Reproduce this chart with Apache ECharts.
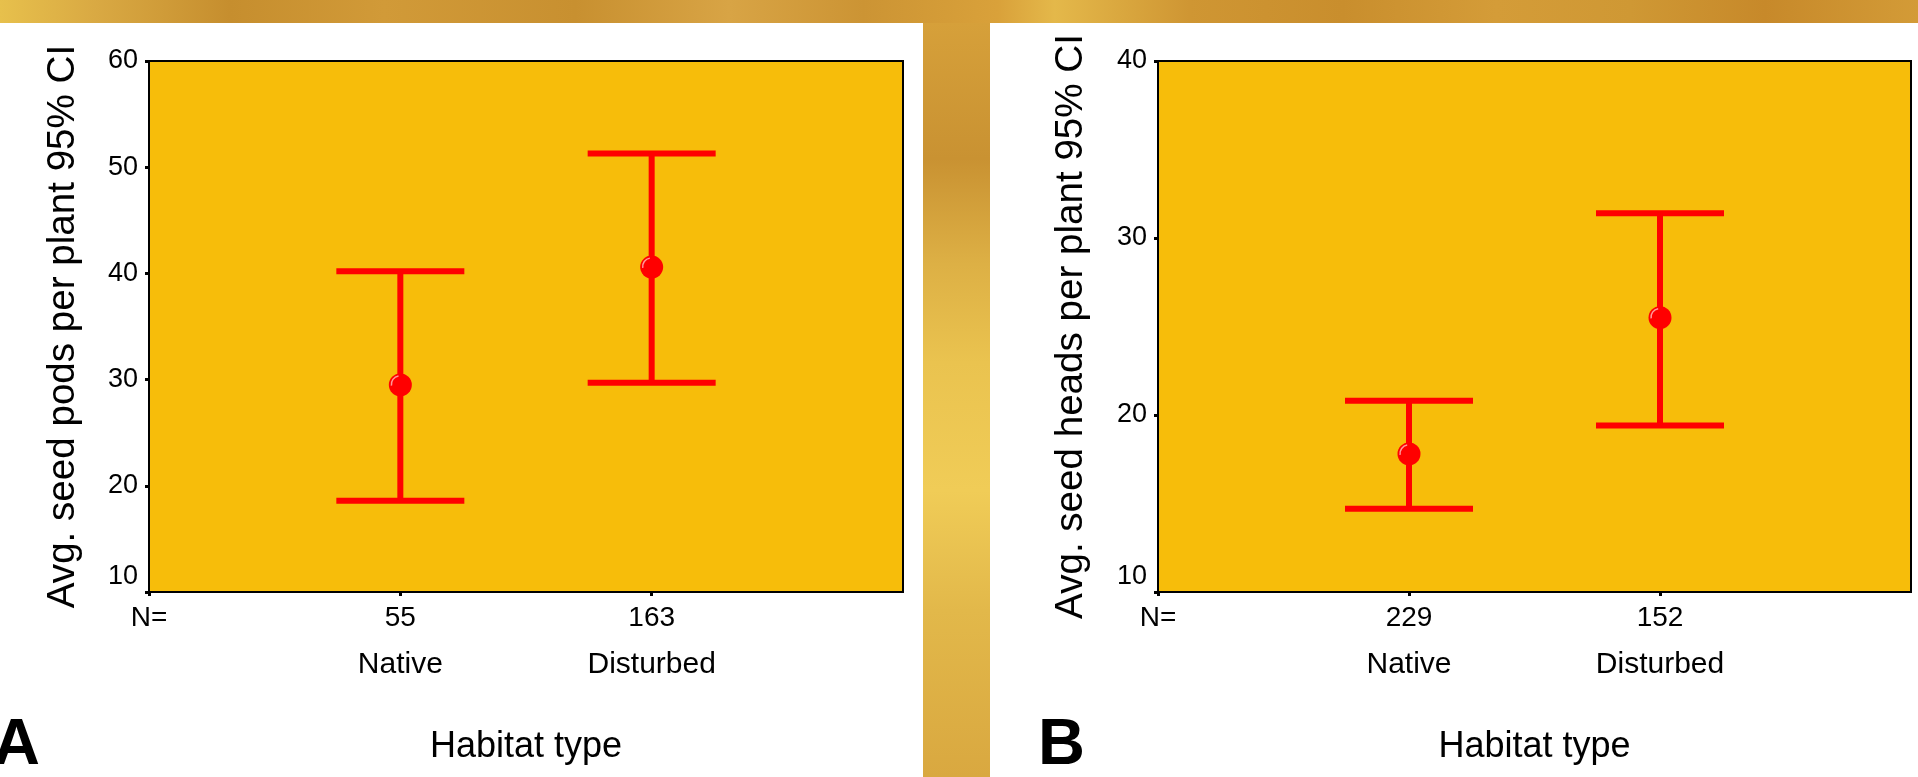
<!DOCTYPE html>
<html>
<head>
<meta charset="utf-8">
<script src="https://cdn.jsdelivr.net/npm/echarts@6/dist/echarts.min.js"></script>
<style>
html,body{margin:0;padding:0;width:1918px;height:777px;overflow:hidden;}
body{background:linear-gradient(90deg,#E7C04C 0%,#D9A943 5%,#C68E2E 12%,#D19A38 20%,#C89030 30%,#D8A445 38%,#CC9434 45%,#D9A13A 52%,#E4B84A 55%,#CF9633 62%,#C98E2D 70%,#D49C38 78%,#CF9834 85%,#C7892A 92%,#D39B37 100%);}
#strip{position:absolute;left:923px;top:23px;width:67px;height:754px;background:linear-gradient(180deg,#D6A03A 0%,#C99232 18%,#DDB045 32%,#EAC34F 45%,#F0CC57 62%,#E2B84A 78%,#D9A840 100%);}
#chart{position:absolute;left:0;top:0;width:1918px;height:777px;}
</style>
</head>
<body>
<div id="strip"></div>
<div id="chart"></div>
<script>
// ---- data ----
const categories = ['Native', 'Disturbed'];
const nA = [55, 163];
const meanA = [29.5, 40.6];
const lowA = [18.6, 29.7];
const highA = [40.2, 51.3];
const yRangeA = [10, 60];

const nB = [229, 152];
const meanB = [17.8, 25.5];
const lowB = [14.7, 19.4];
const highB = [20.8, 31.4];
const yRangeB = [10, 40];

const yStep = 10;
const nLabel = 'N=';
const xTitle = 'Habitat type';
const yTitleA = 'Avg. seed pods per plant 95% CI';
const yTitleB = 'Avg. seed heads per plant 95% CI';

// ---- styles ----
const FONT = "'Liberation Sans', Arial, sans-serif";
const RED = '#FF0000';
const PLOT_BG = '#F7BD0A';

const chart = echarts.init(document.getElementById('chart'), null, {renderer: 'canvas'});

function makeX(gridIndex, ns) {
  return {
    type: 'category', gridIndex: gridIndex,
    data: [''].concat(categories).concat(['']),
    boundaryGap: false,
    axisLine: {show: true, lineStyle: {color: '#000', width: 2}},
    axisTick: {show: true, length: 4, lineStyle: {color: '#000', width: 3},
      interval: function (i) { return i <= categories.length; }},
    axisLabel: {
      interval: 0, margin: 6, verticalAlign: 'top', color: '#000', fontFamily: FONT,
      formatter: function (v, i) {
        if (i === 0) return '{n|' + nLabel + '}';
        if (i <= categories.length) return '{n|' + ns[i - 1] + '}\n{c|' + v + '}';
        return '';
      },
      rich: {
        n: {fontSize: 28, lineHeight: 40, color: '#000', fontFamily: FONT},
        c: {fontSize: 30, lineHeight: 53, color: '#000', fontFamily: FONT}
      }
    },
    splitLine: {show: false},
    name: xTitle, nameLocation: 'middle', nameGap: 137,
    nameTextStyle: {fontSize: 36, color: '#000', fontFamily: FONT}
  };
}

function makeY(gridIndex, range, title, gap) {
  return {
    type: 'value', gridIndex: gridIndex,
    min: range[0], max: range[1], interval: yStep,
    axisLine: {show: true, lineStyle: {color: '#000', width: 2}},
    axisTick: {show: true, length: 4, lineStyle: {color: '#000', width: 3}},
    splitLine: {show: false},
    axisLabel: {
      margin: 11, fontSize: 27, color: '#000', fontFamily: FONT,
      formatter: function (v) { return v === range[0] ? '{low|' + v + '}\n{gap| }' : String(v); },
      rich: {
        low: {fontSize: 27, lineHeight: 30, color: '#000', fontFamily: FONT},
        gap: {fontSize: 10, lineHeight: 30}
      }
    },
    name: title, nameLocation: 'middle', nameRotate: 90, nameGap: gap,
    nameTextStyle: {fontSize: 38.6, color: '#000', fontFamily: FONT}
  };
}

function errSeries(idx, mean, low, high) {
  return {
    type: 'custom', xAxisIndex: idx, yAxisIndex: idx,
    data: categories.map(function (c, i) { return [c, low[i], high[i], mean[i]]; }),
    encode: {x: 0, y: [1, 2, 3]},
    renderItem: function (params, api) {
      const xi = api.value(0);
      const pLow = api.coord([xi, api.value(1)]);
      const pHigh = api.coord([xi, api.value(2)]);
      const pMean = api.coord([xi, api.value(3)]);
      const hw = 64;
      const ls = {stroke: RED, lineWidth: 6};
      return {
        type: 'group',
        children: [
          {type: 'line', shape: {x1: pLow[0], y1: pLow[1], x2: pHigh[0], y2: pHigh[1]}, style: ls},
          {type: 'line', shape: {x1: pHigh[0] - hw, y1: pHigh[1], x2: pHigh[0] + hw, y2: pHigh[1]}, style: ls},
          {type: 'line', shape: {x1: pLow[0] - hw, y1: pLow[1], x2: pLow[0] + hw, y2: pLow[1]}, style: ls},
          {type: 'circle', shape: {cx: pMean[0], cy: pMean[1], r: 11.5}, style: {fill: RED}},
          {type: 'arc', shape: {cx: pMean[0] - 0.5, cy: pMean[1] - 0.5, r: 8.5, startAngle: Math.PI * 0.95, endAngle: Math.PI * 1.45},
            style: {stroke: '#FF9A9A', lineWidth: 1.5, fill: null}}
        ]
      };
    }
  };
}

const option = {
  backgroundColor: 'transparent',
  animation: false,
  graphic: [
    {type: 'rect', z: -10, shape: {x: 0, y: 23, width: 923, height: 754}, style: {fill: '#fff'}},
    {type: 'rect', z: -10, shape: {x: 990, y: 23, width: 928, height: 754}, style: {fill: '#fff'}},
    {type: 'text', x: -7, y: 746, style: {text: 'A', font: 'bold 65px ' + FONT, fill: '#000', verticalAlign: 'middle'}},
    {type: 'text', x: 1038, y: 746, style: {text: 'B', font: 'bold 65px ' + FONT, fill: '#000', verticalAlign: 'middle'}}
  ],
  grid: [
    {left: 149, top: 61, width: 754, height: 531, show: true, backgroundColor: PLOT_BG, borderColor: '#000', borderWidth: 2, containLabel: false},
    {left: 1158, top: 61, width: 753, height: 531, show: true, backgroundColor: PLOT_BG, borderColor: '#000', borderWidth: 2, containLabel: false}
  ],
  xAxis: [makeX(0, nA), makeX(1, nB)],
  yAxis: [makeY(0, yRangeA, yTitleA, 66), makeY(1, yRangeB, yTitleB, 67)],
  series: [errSeries(0, meanA, lowA, highA), errSeries(1, meanB, lowB, highB)]
};
chart.setOption(option);
</script>
</body>
</html>
